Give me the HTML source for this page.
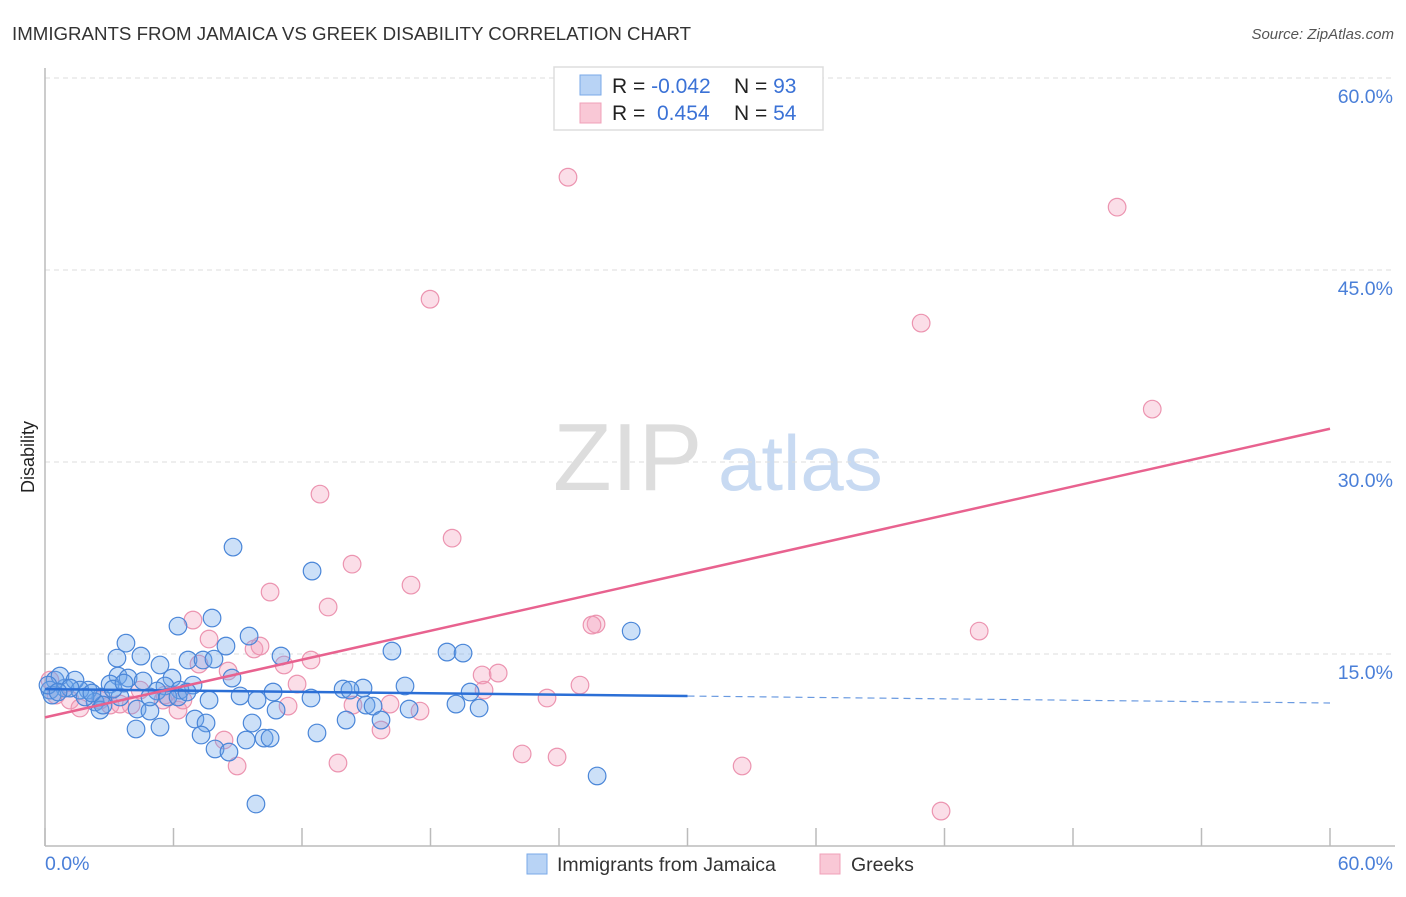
<!DOCTYPE html>
<html><head><meta charset="utf-8">
<style>
body{margin:0;background:#fff;font-family:"Liberation Sans",sans-serif;}
svg text{font-family:"Liberation Sans",sans-serif;}
</style></head>
<body>
<svg id="chart" width="1406" height="892" viewBox="0 0 1406 892" xmlns="http://www.w3.org/2000/svg">
<text x="12" y="40" font-size="18.7" fill="#333">IMMIGRANTS FROM JAMAICA VS GREEK DISABILITY CORRELATION CHART</text>
<text x="1394" y="39" font-size="15" fill="#555" font-style="italic" text-anchor="end">Source: ZipAtlas.com</text>
<text x="34" y="457" font-size="18" fill="#222" text-anchor="middle" transform="rotate(-90 34 457)">Disability</text>
<g>
<text x="553" y="490" font-size="96" font-family="Liberation Serif" fill="#ddd">ZIP</text>
<text x="718" y="490" font-size="78" fill="#c8daf2">atlas</text>
</g>
<g id="grid"></g>
<g id="axes"></g>
<g id="points"></g>
<g id="trends"></g>
<g>
<rect x="554" y="67" width="269" height="63" fill="#fff" stroke="#ddd" stroke-width="1.5"/>
<rect x="580" y="75" width="21" height="20" fill="#b8d3f5" stroke="#7aaae8"/>
<rect x="580" y="103" width="21" height="20" fill="#f9c8d6" stroke="#f0a0b8"/>
<text x="612" y="93" font-size="21" fill="#222">R = <tspan fill="#3b72d6">-0.042</tspan></text>
<text x="734" y="93" font-size="21" fill="#222">N = <tspan fill="#3b72d6">93</tspan></text>
<text x="612" y="120" font-size="21" fill="#222">R = <tspan fill="#3b72d6" x="657">0.454</tspan></text>
<text x="734" y="120" font-size="21" fill="#222">N = <tspan fill="#3b72d6">54</tspan></text>
</g>
<g>
<rect x="527" y="854" width="20" height="20" fill="#b8d3f5" stroke="#7aaae8"/>
<text x="557" y="871" font-size="19.5" fill="#333">Immigrants from Jamaica</text>
<rect x="820" y="854" width="20" height="20" fill="#f9c8d6" stroke="#f0a0b8"/>
<text x="851" y="871" font-size="19.5" fill="#333">Greeks</text>
</g>
</svg>
<script>
const yTicks=[15,30,45,60];
const yTickLabels=["15.0%","30.0%","45.0%","60.0%"];
const xTickLabels=["0.0%","60.0%"];
const blueX=[8.78,12.47,7.80,6.21,3.78,9.53,8.45,4.48,3.36,27.37,18.77,19.52,16.20,6.68,7.38,7.89,5.37,11.02,8.73,3.41,3.88,5.93,3.04,4.58,5.60,6.91,10.65,13.92,14.85,16.81,19.85,14.24,12.42,7.66,9.90,2.62,2.01,0.93,0.47,0.70,1.40,1.63,2.34,2.57,2.71,4.30,4.90,5.23,6.30,9.11,10.79,14.99,15.32,17.00,19.19,20.27,14.06,15.69,7.00,7.52,9.67,12.70,4.25,5.37,7.29,7.94,8.59,9.39,10.23,10.51,25.78,9.85,3.50,0.23,0.33,1.17,1.87,3.18,3.69,4.90,5.74,6.21,6.63,0.14,0.61,2.19];
const blueY=[23.35,21.48,17.81,17.18,15.85,16.40,15.62,14.84,14.68,16.79,15.15,15.07,15.23,14.53,14.53,14.60,14.14,14.84,13.12,13.28,13.12,13.12,12.65,12.89,12.50,12.57,12.03,12.26,12.34,12.50,12.03,12.18,11.56,11.40,11.40,11.64,12.18,12.34,12.96,13.28,12.96,12.18,11.25,10.62,11.01,10.70,10.54,12.11,12.18,11.72,10.62,11.01,10.93,10.70,11.09,10.78,9.84,9.84,9.92,9.61,9.61,8.83,9.14,9.29,8.67,7.58,7.34,8.28,8.43,8.43,5.47,3.28,11.64,12.18,11.79,12.34,11.64,12.26,12.73,11.64,11.64,11.64,12.03,12.57,12.03,11.95];
const pinkX=[24.42,50.06,17.98,40.91,51.70,12.84,19.01,14.34,17.09,10.51,13.22,25.73,25.54,6.91,7.66,9.76,10.04,8.55,7.19,11.16,12.42,20.41,21.16,20.50,24.98,11.77,23.44,11.35,17.51,15.69,6.21,22.28,23.91,32.55,13.68,8.97,8.36,41.84,43.62,0.23,0.51,1.17,1.63,3.04,4.02,5.51,5.60,4.44,14.38,16.11,6.44,2.57,3.50];
const pinkY=[52.25,49.91,42.72,40.85,34.13,27.49,24.05,22.02,20.38,19.84,18.67,17.34,17.26,17.65,16.17,15.39,15.62,13.67,14.21,14.14,14.53,13.36,13.51,12.18,12.57,12.65,11.56,10.93,10.54,9.06,10.62,7.19,6.95,6.25,6.48,6.25,8.28,2.73,16.79,12.96,11.79,11.40,10.78,11.01,11.01,11.40,11.79,12.18,11.01,11.09,11.40,11.40,11.09];
const blueTrend=[12.26,11.17];
const pinkTrend=[10.05,32.6];
const blueSolidEnd=30;

const X0=45,X1=1330,Y0=846,PXY=192/15;
const sx=v=>X0+(X1-X0)*v/60;
const sy=v=>Y0-v*PXY;
const NS="http://www.w3.org/2000/svg";
function mk(tag,attrs,parent){const e=document.createElementNS(NS,tag);for(const k in attrs)e.setAttribute(k,attrs[k]);parent.appendChild(e);return e;}
const grid=document.getElementById('grid'),axes=document.getElementById('axes'),pts=document.getElementById('points'),tr=document.getElementById('trends');
yTicks.forEach((t,i)=>{
 const l=mk('line',{x1:X0,x2:1395,y1:sy(t),y2:sy(t),stroke:'#ddd','stroke-dasharray':'5,4'},grid);
 
 
 const tx=mk('text',{x:1393,y:sy(t)+25,'font-size':19.5,fill:'#4a7fd8','text-anchor':'end'},axes);
 tx.textContent=yTickLabels[i];
 
 
});
const ax=mk('line',{x1:X0,x2:X0,y1:68,y2:Y0,stroke:'#bbb','stroke-width':1.5},axes);


const bx=mk('line',{x1:X0,x2:1395,y1:Y0,y2:Y0,stroke:'#bbb','stroke-width':1.5},axes);


for(let i=0;i<=10;i++){
 const v=i*6;
 const t=mk('line',{x1:sx(v),x2:sx(v),y1:828,y2:Y0,stroke:'#bbb','stroke-width':1.5},axes);
 
 
}
[[0,'start',45],[60,'end',1393]].forEach((d,i)=>{
 const tx=mk('text',{x:d[2],y:870,'font-size':19.5,fill:'#4a7fd8','text-anchor':d[1]},axes);
 tx.textContent=xTickLabels[i];
 
 
});
pinkX.forEach((x,i)=>{
 const c=mk('circle',{cx:sx(x),cy:sy(pinkY[i]),r:8.8,fill:'rgba(244,160,188,0.35)',stroke:'#ec94b0','stroke-width':1.2},pts);
 
 
});
blueX.forEach((x,i)=>{
 const c=mk('circle',{cx:sx(x),cy:sy(blueY[i]),r:8.8,fill:'rgba(110,165,235,0.35)',stroke:'#4a86d8','stroke-width':1.2},pts);
 
 
});
const bAt=v=>blueTrend[0]+(blueTrend[1]-blueTrend[0])*v/60;
const b1=mk('line',{x1:sx(0),y1:sy(bAt(0)),x2:sx(blueSolidEnd),y2:sy(bAt(blueSolidEnd)),stroke:'#2b6fd6','stroke-width':2.5},tr);


const b2=mk('line',{x1:sx(blueSolidEnd),y1:sy(bAt(blueSolidEnd)),x2:sx(60),y2:sy(bAt(60)),stroke:'#6a9ae0','stroke-width':1.2,'stroke-dasharray':'7,5'},tr);


const p1=mk('line',{x1:sx(0),y1:sy(pinkTrend[0]),x2:sx(60),y2:sy(pinkTrend[1]),stroke:'#e8628f','stroke-width':2.5},tr);


</script>
</body></html>
